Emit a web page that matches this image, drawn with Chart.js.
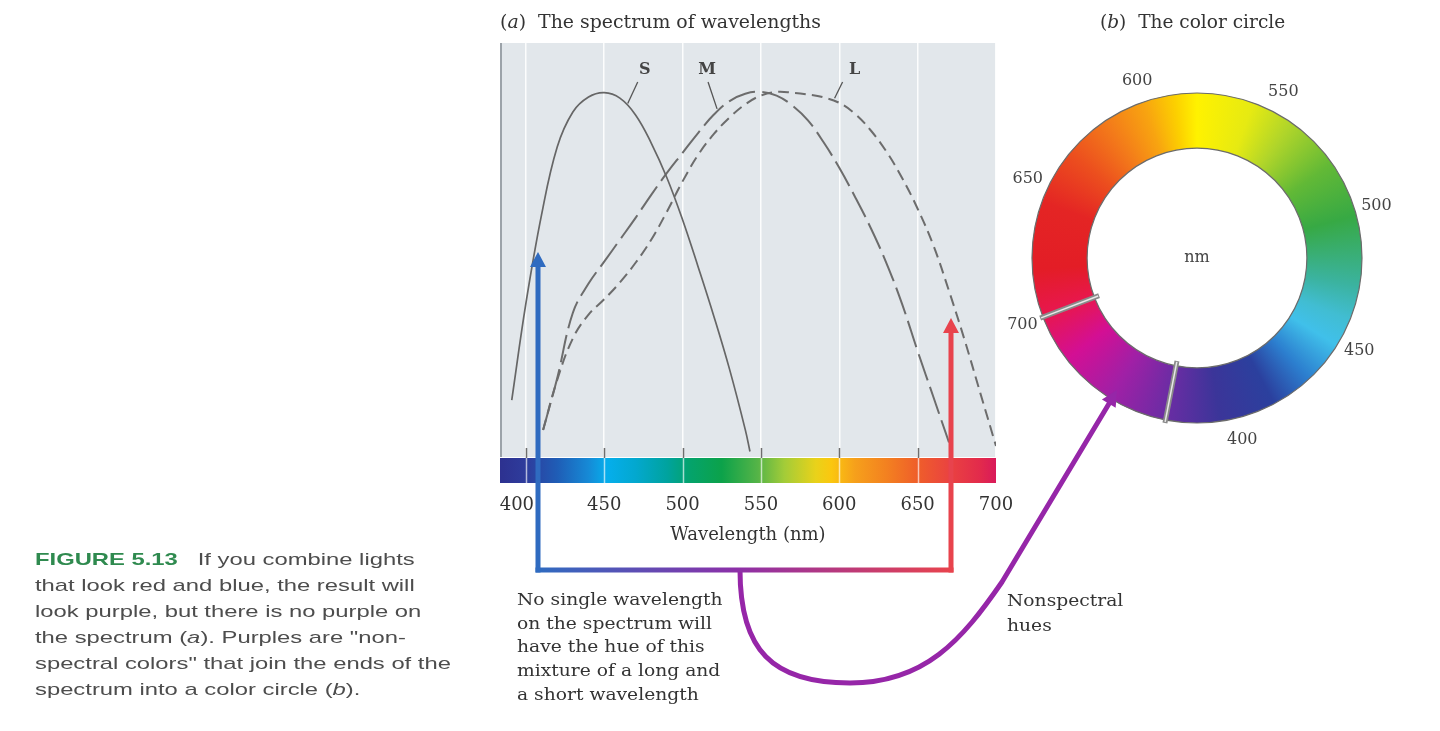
<!DOCTYPE html>
<html>
<head>
<meta charset="utf-8">
<title>Spectrum of wavelengths and the color circle</title>
<script src="https://cdn.jsdelivr.net/npm/chart.js@4.4.1/dist/chart.umd.min.js"></script>
<style>
  html, body { margin: 0; padding: 0; background: #fff; }
  #page { position: relative; width: 1440px; height: 731px; overflow: hidden; }
  #spectrumChart { position: absolute; left: 0; top: 0; z-index: 2; }
  #circleChart { position: absolute; left: 987px; top: 48px; z-index: 1; }
  .txt { position: absolute; white-space: nowrap; z-index: 3; transform-origin: 0 0; }
  .serif { font-family: 'DejaVu Serif', serif; color: #333; }
  .sans { font-family: 'Liberation Sans', Arial, sans-serif; color: #4d4d4d; }
</style>
</head>
<body>
<div id="page">
  <canvas id="spectrumChart" width="1440" height="731"></canvas>
  <canvas id="circleChart" width="420" height="420"></canvas>

  <div class="txt serif" style="left:500px;top:11px;font-size:18px;transform:scaleX(1.05);">(<i>a</i>)&nbsp; The spectrum of wavelengths</div>
  <div class="txt serif" style="left:1100px;top:11px;font-size:18px;transform:scaleX(1.03);">(<i>b</i>)&nbsp; The color circle</div>

  <div class="txt sans" id="caption" style="left:35px;top:547px;font-size:17px;line-height:26px;transform:scaleX(1.4);">
    <b style="color:#2f8a4f;">FIGURE 5.13</b>&nbsp;&nbsp; If you combine lights<br>
    that look red and blue, the result will<br>
    look purple, but there is no purple on<br>
    the spectrum (<i>a</i>). Purples are "non-<br>
    spectral colors" that join the ends of the<br>
    spectrum into a color circle (<i>b</i>).
  </div>

  <div class="txt serif" style="left:517px;top:588px;font-size:17px;line-height:23.7px;transform:scaleX(1.1);">
    No single wavelength<br>on the spectrum will<br>have the hue of this<br>mixture of a long and<br>a short wavelength
  </div>
  <div class="txt serif" style="left:1007px;top:588px;font-size:17px;line-height:25px;transform:scaleX(1.1);">Nonspectral<br>hues</div>
</div>

<script>
// cone sensitivity curves (relative, peak = 1)
const sNm  = [391, 400, 410, 420, 430, 440, 450, 460, 470, 480, 490, 500, 510, 520, 530, 540, 543];
const sVal = [0.156, 0.42, 0.663, 0.849, 0.945, 0.986, 0.998, 0.983, 0.937, 0.86, 0.765, 0.65, 0.52, 0.385, 0.24, 0.075, 0.015];

const mNm  = [411, 420, 430, 440, 450, 460, 470, 480, 490, 500, 510, 520, 530, 540, 550, 560, 570, 580, 590, 600, 610, 620, 630, 640, 650, 660, 670];
const mVal = [0.074, 0.216, 0.395, 0.475, 0.535, 0.595, 0.655, 0.718, 0.778, 0.833, 0.888, 0.938, 0.975, 0.995, 1.0, 0.99, 0.963, 0.922, 0.862, 0.792, 0.713, 0.628, 0.532, 0.42, 0.29, 0.165, 0.04];

const lNm  = [411, 420, 430, 440, 450, 460, 470, 480, 490, 500, 510, 520, 530, 540, 550, 560, 570, 580, 590, 600, 610, 620, 630, 640, 650, 660, 670, 680, 690, 700];
const lVal = [0.074, 0.211, 0.325, 0.39, 0.432, 0.478, 0.532, 0.595, 0.672, 0.755, 0.828, 0.885, 0.93, 0.966, 0.99, 1.0, 0.998, 0.993, 0.985, 0.97, 0.94, 0.895, 0.837, 0.765, 0.68, 0.58, 0.455, 0.32, 0.175, 0.03];

const curveNames = ['S', 'M', 'L'];
const curveLabelNm = [465, 522, 597];

const tickNm = [400, 450, 500, 550, 600, 650, 700];

// spectrum bar colours by wavelength
const spectrumNm  = [383, 400, 420, 440, 452, 470, 490, 505, 525, 548, 565, 585, 595, 610, 630, 650, 670, 690, 700];
const spectrumCol = ['#2d3190', '#2e3c9c', '#1f5db6', '#168ad6', '#05aeec', '#03a8cf', '#00a39f', '#04a36b', '#0ca24a', '#55b447', '#a3cc38', '#e9d21a', '#fbc70f', '#f6a01b', '#f38120', '#ef5e2a', '#ea4340', '#e22a4c', '#d91a5a'];

// colour circle
const ringParts   = ['Nonspectral hues', 'Spectral hues'];
const ringDegrees = [58, 302];
const ringStartDeg = 191;
const ringStopDeg   = [0, 20, 35, 55, 75, 100, 112, 122, 137, 152, 172, 192, 212, 232, 250, 266, 290, 310, 326, 341, 352, 360];
const ringStopColor = ['#fff200', '#e6ea12', '#b0d52a', '#62b936', '#37a944', '#3bb3a0', '#41bdd2', '#40c0ea', '#2c7fcf', '#2b409e', '#3b3599', '#6c2ca4', '#a020a6', '#d30f94', '#e8174d', '#e31d26', '#e42524', '#ec4f1e', '#f37a1a', '#f8a410', '#fcd000', '#fff200'];
const ringTickNm = [400, 450, 500, 550, 600, 650, 700];
const ringDegAt400 = 166, ringDegAt700 = -111;

const serif = "'DejaVu Serif', serif";

function pts(xs, ys) { return xs.map((x, i) => ({ x: x, y: ys[i] })); }

function valueAt(xs, ys, nm) {
  for (let i = 1; i < xs.length; i++) {
    if (nm <= xs[i]) {
      const t = (nm - xs[i - 1]) / (xs[i] - xs[i - 1]);
      return ys[i - 1] + t * (ys[i] - ys[i - 1]);
    }
  }
  return ys[ys.length - 1];
}

function arrowHead(ctx, x, y, ang, len, half, color) {
  ctx.save();
  ctx.translate(x, y);
  ctx.rotate(ang);
  ctx.beginPath();
  ctx.moveTo(0, 0);
  ctx.lineTo(-len, -half);
  ctx.lineTo(-len, half);
  ctx.closePath();
  ctx.fillStyle = color;
  ctx.fill();
  ctx.restore();
}

const panelPlugin = {
  id: 'panel',
  beforeDraw(chart) {
    const { ctx, chartArea: a, scales: { x } } = chart;
    ctx.save();
    ctx.fillStyle = '#e2e7eb';
    ctx.fillRect(a.left, a.top, a.right - a.left, a.bottom - a.top);
    // spectrum bar under the plot
    const barTop = a.bottom + 1, barH = 25;
    const g = ctx.createLinearGradient(a.left, 0, a.right, 0);
    spectrumNm.forEach((nm, i) => {
      const f = (x.getPixelForValue(nm) - a.left) / (a.right - a.left);
      g.addColorStop(Math.min(1, Math.max(0, f)), spectrumCol[i]);
    });
    ctx.fillStyle = g;
    ctx.fillRect(a.left, barTop, a.right - a.left, barH);
    ctx.strokeStyle = 'rgba(255,255,255,0.65)';
    ctx.lineWidth = 1.5;
    tickNm.forEach(nm => {
      if (nm >= 700) return;
      const px = Math.round(x.getPixelForValue(nm)) + 0.5;
      ctx.beginPath(); ctx.moveTo(px, barTop); ctx.lineTo(px, barTop + barH); ctx.stroke();
    });
    ctx.restore();
  },
  afterDatasetsDraw(chart) {
    const { ctx, chartArea: a, scales: { x, y } } = chart;
    ctx.save();
    // left edge of the panel
    ctx.strokeStyle = '#9ca3a9';
    ctx.lineWidth = 2;
    ctx.beginPath(); ctx.moveTo(a.left + 1, a.top); ctx.lineTo(a.left + 1, a.bottom); ctx.stroke();
    // small tick marks on top of the bar
    ctx.strokeStyle = '#6e6e6e';
    ctx.lineWidth = 1.5;
    tickNm.forEach(nm => {
      if (nm >= 700) return;
      const px = Math.round(x.getPixelForValue(nm)) + 0.5;
      ctx.beginPath(); ctx.moveTo(px, a.bottom - 9); ctx.lineTo(px, a.bottom + 1); ctx.stroke();
    });
    // S, M, L labels with leader lines
    const series = [[sNm, sVal], [mNm, mVal], [lNm, lVal]];
    const lead = [[10, 17], [-9, -10], [8, 20]]; // leader dx, label dx
    const labelY = a.top + 27;
    ctx.strokeStyle = '#555';
    ctx.lineWidth = 1.3;
    ctx.fillStyle = '#444';
    ctx.font = 'bold 16px ' + serif;
    ctx.textAlign = 'center';
    ctx.textBaseline = 'middle';
    curveNames.forEach((name, i) => {
      const nm = curveLabelNm[i];
      const px = x.getPixelForValue(nm);
      const py = y.getPixelForValue(valueAt(series[i][0], series[i][1], nm)) - 3;
      const d = lead[i];
      ctx.beginPath(); ctx.moveTo(px, py); ctx.lineTo(px + d[0], labelY + 12); ctx.stroke();
      ctx.fillText(name, px + d[1], labelY);
    });
    ctx.restore();
  },
  afterDraw(chart) {
    const { ctx, scales: { x } } = chart;
    const bx = Math.round(x.getPixelForValue(408));
    const rx = Math.round(x.getPixelForValue(671));
    const baseY = 570;
    const blue = '#2f6bc0', red = '#e8434d', purple = '#9626a8';
    ctx.save();
    ctx.lineWidth = 5;
    ctx.lineCap = 'butt';
    // purple curve to the circle
    ctx.strokeStyle = purple;
    ctx.beginPath();
    ctx.moveTo(740, baseY);
    ctx.bezierCurveTo(740, 650, 772, 683, 850, 683);
    ctx.bezierCurveTo(925, 683, 962, 640, 1002, 582);
    ctx.lineTo(1110, 402);
    ctx.stroke();
    arrowHead(ctx, 1117, 390, Math.atan2(390 - 582, 1117 - 1002), 16, 8, purple);
    // blue and red verticals
    ctx.strokeStyle = blue;
    ctx.beginPath(); ctx.moveTo(bx, baseY + 2.5); ctx.lineTo(bx, 264); ctx.stroke();
    arrowHead(ctx, bx, 252, -Math.PI / 2, 15, 8, blue);
    ctx.strokeStyle = red;
    ctx.beginPath(); ctx.moveTo(rx, baseY + 2.5); ctx.lineTo(rx, 330); ctx.stroke();
    arrowHead(ctx, rx, 318, -Math.PI / 2, 15, 8, red);
    // horizontal joining line
    const g = ctx.createLinearGradient(bx, 0, rx, 0);
    g.addColorStop(0, blue);
    g.addColorStop(0.48, '#8c30a8');
    g.addColorStop(1, red);
    ctx.strokeStyle = g;
    ctx.beginPath(); ctx.moveTo(bx - 2.5, baseY); ctx.lineTo(rx + 2.5, baseY); ctx.stroke();
    ctx.restore();
  }
};

new Chart(document.getElementById('spectrumChart'), {
  type: 'line',
  data: {
    datasets: [
      { label: 'S', data: pts(sNm, sVal), borderColor: '#666', borderWidth: 1.7 },
      { label: 'M', data: pts(mNm, mVal), borderColor: '#6c6c6c', borderWidth: 2, borderDash: [28, 7] },
      { label: 'L', data: pts(lNm, lVal), borderColor: '#6c6c6c', borderWidth: 2, borderDash: [11, 6] }
    ]
  },
  options: {
    responsive: false,
    animation: false,
    events: [],
    layout: { padding: { left: 500, right: 444, top: 43, bottom: 174 } },
    elements: { point: { radius: 0 }, line: { tension: 0.4, fill: false } },
    plugins: { legend: { display: false }, tooltip: { enabled: false } },
    scales: {
      x: {
        type: 'linear',
        min: 383.5,
        max: 700,
        afterBuildTicks: s => { s.ticks = tickNm.map(v => ({ value: v })); },
        afterFit: s => { s.height = 100; },
        border: { display: false },
        grid: { color: 'rgba(255,255,255,0.9)', lineWidth: 1.5, drawTicks: false },
        ticks: {
          padding: 38, autoSkip: false, maxRotation: 0, color: '#333', font: { family: serif, size: 18 },
          // the first label sits left of its tick, clear of the blue arrow
          callback: v => v === 400 ? '400\u2002\u2002' : String(v)
        },
        title: { display: true, text: 'Wavelength (nm)', color: '#333', font: { family: serif, size: 18 }, padding: { top: 0, bottom: 11 } }
      },
      y: { display: false, min: 0, max: 1.134 }
    }
  },
  plugins: [panelPlugin]
});

const ringDecor = {
  id: 'ringDecor',
  afterDraw(chart) {
    const { ctx } = chart;
    const arcs = chart.getDatasetMeta(0).data;
    const { x: cx, y: cy, innerRadius: ri, outerRadius: ro } = arcs[0].getProps(['x', 'y', 'innerRadius', 'outerRadius']);
    ctx.save();
    ctx.strokeStyle = '#6b6b6b';
    ctx.lineWidth = 1.2;
    ctx.beginPath(); ctx.arc(cx, cy, ro, 0, Math.PI * 2); ctx.stroke();
    ctx.beginPath(); ctx.arc(cx, cy, ri, 0, Math.PI * 2); ctx.stroke();
    // dividers between nonspectral and spectral hues
    arcs.forEach(arc => {
      const a = arc.startAngle;
      const c = Math.cos(a), s = Math.sin(a);
      ctx.lineCap = 'butt';
      ctx.strokeStyle = '#8a8a8a';
      ctx.lineWidth = 5;
      ctx.beginPath(); ctx.moveTo(cx + c * (ri - 5), cy + s * (ri - 5)); ctx.lineTo(cx + c * (ro + 3), cy + s * (ro + 3)); ctx.stroke();
      ctx.strokeStyle = '#e8e8e8';
      ctx.lineWidth = 1.5;
      ctx.beginPath(); ctx.moveTo(cx + c * (ri - 4), cy + s * (ri - 4)); ctx.lineTo(cx + c * (ro + 2), cy + s * (ro + 2)); ctx.stroke();
    });
    // wavelength labels around the ring
    ctx.fillStyle = '#444';
    ctx.font = '16px ' + serif;
    ctx.textAlign = 'center';
    ctx.textBaseline = 'middle';
    ringTickNm.forEach(nm => {
      const deg = ringDegAt400 + (nm - 400) / 300 * (ringDegAt700 - ringDegAt400);
      const r = ro + 22;
      const t = deg * Math.PI / 180;
      ctx.fillText(String(nm), cx + r * Math.sin(t), cy - r * Math.cos(t));
    });
    ctx.fillText('nm', cx, cy);
    ctx.restore();
  }
};

new Chart(document.getElementById('circleChart'), {
  type: 'doughnut',
  data: {
    labels: ringParts,
    datasets: [{
      data: ringDegrees,
      borderWidth: 0,
      backgroundColor: c => {
        const a = c.chart.chartArea;
        if (!a) return '#ccc';
        const g = c.chart.ctx.createConicGradient(-Math.PI / 2, (a.left + a.right) / 2, (a.top + a.bottom) / 2);
        ringStopDeg.forEach((d, i) => g.addColorStop(d / 360, ringStopColor[i]));
        return g;
      }
    }]
  },
  options: {
    responsive: false,
    animation: false,
    events: [],
    rotation: ringStartDeg,
    cutout: '66.6%',
    layout: { padding: 45 },
    plugins: { legend: { display: false }, tooltip: { enabled: false } }
  },
  plugins: [ringDecor]
});
</script>
</body>
</html>
